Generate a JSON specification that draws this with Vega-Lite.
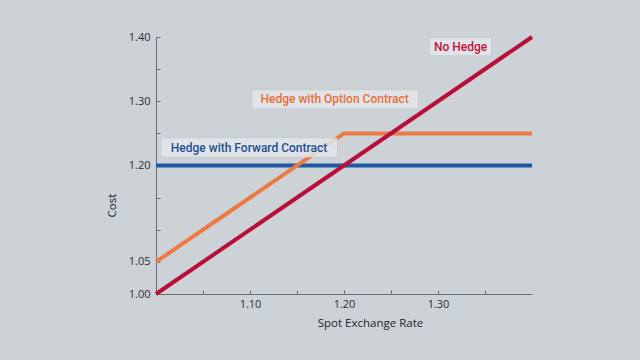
{
  "$schema": "https://vega.github.io/schema/vega-lite/v6.json",
  "autosize": "none",
  "width": 376,
  "height": 257,
  "padding": {"left": 156, "top": 37, "right": 108, "bottom": 66},
  "background": "#cdd2d7",
  "config": {
    "view": {"stroke": null},
    "axis": {
      "labelOverlap": false, "labelFlush": false, "labelBound": false,
      "grid": false, "domainColor": "#6b6f74", "tickColor": "#6b6f74", "tickSize": -4,
      "labelFont": "Open Sans", "labelFontSize": 11, "labelColor": "#2b2e33",
      "titleFont": "Open Sans", "titleFontSize": 11.5, "titleFontWeight": "normal", "titleColor": "#1f2226"
    }
  },
  "datasets": {
    "lines": [
      {"series": "Hedge with Forward Contract", "rate": 1.00, "cost": 1.20},
      {"series": "Hedge with Forward Contract", "rate": 1.40, "cost": 1.20},
      {"series": "Hedge with Option Contract", "rate": 1.00, "cost": 1.05},
      {"series": "Hedge with Option Contract", "rate": 1.20, "cost": 1.25},
      {"series": "Hedge with Option Contract", "rate": 1.40, "cost": 1.25},
      {"series": "No Hedge", "rate": 1.00, "cost": 1.00},
      {"series": "No Hedge", "rate": 1.40, "cost": 1.40}
    ],
    "labels": [
      {"series": "No Hedge", "xc": 1.324, "yc": 1.385, "x1": 1.291, "x2": 1.357, "y1": 1.371, "y2": 1.399},
      {"series": "Hedge with Option Contract", "xc": 1.190, "yc": 1.303, "x1": 1.102, "x2": 1.279, "y1": 1.288, "y2": 1.318},
      {"series": "Hedge with Forward Contract", "xc": 1.099, "yc": 1.228, "x1": 1.005, "x2": 1.193, "y1": 1.213, "y2": 1.243}
    ]
  },
  "layer": [
    {
      "data": {"name": "lines"},
      "mark": {"type": "line", "strokeWidth": 4, "clip": false},
      "encoding": {
        "x": {
          "field": "rate", "type": "quantitative",
          "scale": {"domain": [1.0, 1.4], "nice": false},
          "axis": {
            "title": "Spot Exchange Rate",
            "values": [1.05, 1.10, 1.15, 1.20, 1.25, 1.30, 1.35],
            "labelExpr": "(abs(datum.value-1.1)<0.001 || abs(datum.value-1.2)<0.001 || abs(datum.value-1.3)<0.001) ? format(datum.value, '.2f') : ''",
            "labelPadding": 8,
            "titleX": 214,
            "titlePadding": 8
          }
        },
        "y": {
          "field": "cost", "type": "quantitative",
          "scale": {"domain": [1.0, 1.4], "nice": false},
          "axis": {
            "title": "Cost",
            "values": [1.00, 1.05, 1.10, 1.15, 1.20, 1.25, 1.30, 1.35, 1.40],
            "labelExpr": "(datum.value < 1.001 || abs(datum.value-1.05)<0.001 || abs(datum.value-1.2)<0.001 || abs(datum.value-1.3)<0.001 || abs(datum.value-1.4)<0.001) ? format(datum.value, '.2f') : ''",
            "labelPadding": 10,
            "titleX": -39,
            "titleY": 168
          }
        },
        "color": {
          "field": "series", "type": "nominal",
          "scale": {
            "domain": ["Hedge with Forward Contract", "Hedge with Option Contract", "No Hedge"],
            "range": ["#1d5aa6", "#ec7a45", "#b8103a"]
          },
          "legend": null
        },
        "strokeWidth": {
          "field": "series", "type": "nominal",
          "scale": {
            "domain": ["Hedge with Forward Contract", "Hedge with Option Contract", "No Hedge"],
            "range": [4, 3.5, 4]
          },
          "legend": null
        },
        "order": {"field": "rate"}
      }
    },
    {
      "data": {"name": "labels"},
      "mark": {"type": "rect", "fill": "#e4e7ea", "opacity": 0.85, "stroke": "#b9bdc2", "strokeWidth": 0.5},
      "encoding": {
        "x": {"field": "x1", "type": "quantitative", "axis": {"values": [1.05, 1.10, 1.15, 1.20, 1.25, 1.30, 1.35]}},
        "x2": {"field": "x2"},
        "y": {"field": "y1", "type": "quantitative", "axis": {"values": [1.00, 1.05, 1.10, 1.15, 1.20, 1.25, 1.30, 1.35, 1.40]}},
        "y2": {"field": "y2"}
      }
    },
    {
      "data": {"name": "labels"},
      "mark": {"type": "text", "font": "Roboto", "fontSize": 12, "fontWeight": 500, "align": "center", "baseline": "middle"},
      "encoding": {
        "x": {"field": "xc", "type": "quantitative", "axis": {"values": [1.05, 1.10, 1.15, 1.20, 1.25, 1.30, 1.35]}},
        "y": {"field": "yc", "type": "quantitative", "axis": {"values": [1.00, 1.05, 1.10, 1.15, 1.20, 1.25, 1.30, 1.35, 1.40]}},
        "text": {"field": "series"},
        "color": {
          "field": "series", "type": "nominal",
          "scale": {
            "domain": ["Hedge with Forward Contract", "Hedge with Option Contract", "No Hedge"],
            "range": ["#1f4f8f", "#e8703a", "#c0143c"]
          },
          "legend": null
        }
      }
    }
  ],
  "resolve": {"scale": {"color": "independent"}}
}
